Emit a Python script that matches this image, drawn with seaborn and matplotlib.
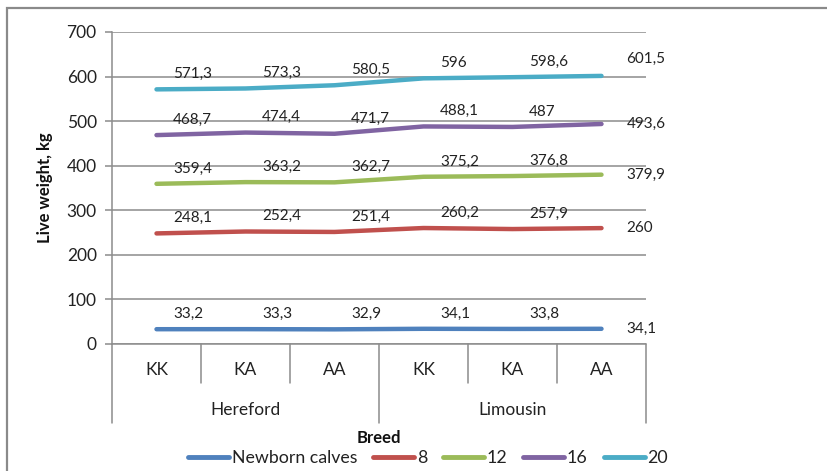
import matplotlib
matplotlib.use("Agg")
import matplotlib.pyplot as plt
import matplotlib.transforms as mtransforms
from matplotlib.patches import Rectangle
import seaborn as sns
import pandas as pd

genotypes = ["KK", "KA", "AA", "KK", "KA", "AA"]
breeds = ["Hereford", "Limousin"]
series_names = ["Newborn calves", "8", "12", "16", "20"]
newborn = [33.2, 33.3, 32.9, 34.1, 33.8, 34.1]
m8 = [248.1, 252.4, 251.4, 260.2, 257.9, 260.0]
m12 = [359.4, 363.2, 362.7, 375.2, 376.8, 379.9]
m16 = [468.7, 474.4, 471.7, 488.1, 487.0, 493.6]
m20 = [571.3, 573.3, 580.5, 596.0, 598.6, 601.5]
colors = ["#4F81BD", "#C0504D", "#9BBB59", "#8064A2", "#4BACC6"]

all_series = [newborn, m8, m12, m16, m20]
rows = []
for name, vals in zip(series_names, all_series):
    for i, v in enumerate(vals):
        rows.append({"pos": i, "value": v, "series": name})
df = pd.DataFrame(rows)

sns.set_theme(style="white")
plt.rcParams["font.family"] = ["Lato", "DejaVu Sans"]

fig = plt.figure(figsize=(8.28, 4.71), dpi=100)
ax = fig.add_axes([112 / 828, 1 - 344 / 471, 534 / 828, 312 / 471])

sns.lineplot(data=df, x="pos", y="value", hue="series", hue_order=series_names,
             palette=colors, linewidth=3.2, ax=ax, legend=True,
             solid_capstyle="round")

ax.set_xlim(-0.5, len(genotypes) - 0.5)
ax.set_ylim(0, 700)
ax.set_yticks(range(0, 701, 100))
ax.set_xticks([])
ax.set_xlabel("")
ax.set_ylabel("")
gridc = "#8C8C8C"
ax.yaxis.grid(True, color=gridc, linewidth=1.1)
ax.set_axisbelow(True)
for s in ["top", "right", "bottom"]:
    ax.spines[s].set_visible(False)
ax.spines["left"].set_color(gridc)
ax.spines["left"].set_linewidth(1.1)
ax.tick_params(axis="y", length=5, width=1.1, color=gridc, pad=6,
               labelsize=12.5, labelcolor="#222222", left=True)

# data labels
last_offsets = [(18, 0), (18, 0), (18, 0), (18, 0), (18, 12)]
for si, vals in enumerate(all_series):
    for i, v in enumerate(vals):
        txt = f"{v:g}".replace(".", ",")
        if i == len(vals) - 1:
            off = last_offsets[si]
        else:
            off = (12, 11)
        ax.annotate(txt, (i, v), xytext=off, textcoords="offset points",
                    ha="left", va="center", fontsize=11, color="#222222")

# multi-level category axis
trans = mtransforms.blended_transform_factory(ax.transData, ax.transAxes)
for b in [-0.5, 2.5, 5.5]:
    ax.plot([b, b], [0, -0.253], transform=trans, color=gridc, lw=1.1,
            clip_on=False)
for b in [0.5, 1.5, 3.5, 4.5]:
    ax.plot([b, b], [0, -0.125], transform=trans, color=gridc, lw=1.1,
            clip_on=False)
ax.plot([-0.5, 5.5], [0, 0], transform=trans, color=gridc, lw=1.1,
        clip_on=False)
for i, g in enumerate(genotypes):
    ax.text(i, -0.083, g, transform=trans, ha="center", va="center",
            fontsize=12.5, color="#222222")
for j, b in enumerate(breeds):
    ax.text(1 + 3 * j, -0.212, b, transform=trans, ha="center", va="center",
            fontsize=12.5, color="#222222")

fig.text(379 / 828, 1 - 438 / 471, "Breed", ha="center", va="center",
         fontsize=12, fontweight="bold", color="#111111")
fig.text(45 / 828, 1 - 188 / 471, "Live weight, kg", ha="center", va="center",
         rotation=90, fontsize=12, fontweight="bold", color="#111111")

handles, labels = ax.get_legend_handles_labels()
ax.get_legend().remove()
for h in handles:
    h.set_linewidth(3.5)
leg = fig.legend(handles, labels, loc="center", ncol=5,
                 bbox_to_anchor=(428 / 828, 1 - 458 / 471), frameon=False,
                 fontsize=12.8, handlelength=2.3, handletextpad=0.15,
                 columnspacing=0.9, borderaxespad=0)
for t in leg.get_texts():
    t.set_color("#222222")

fig.patches.append(Rectangle((7 / 828, -0.05), 1.2, 1 - 8 / 471 + 0.05,
                             transform=fig.transFigure, fill=False,
                             edgecolor="#8A8A8A", linewidth=1.6))

fig.savefig("out.png", dpi=100)
